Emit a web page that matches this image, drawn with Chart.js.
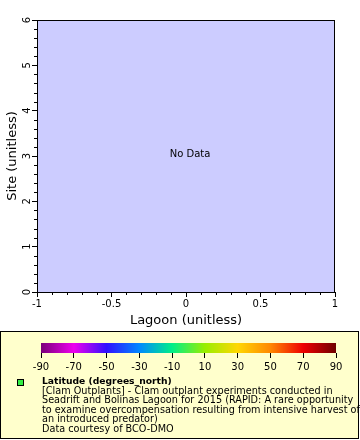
<!DOCTYPE html>
<html>
<head>
<meta charset="utf-8">
<script src="https://cdn.jsdelivr.net/npm/chart.js@4.4.1/dist/chart.umd.min.js"></script>
<style>
  html, body { margin: 0; padding: 0; background: #ffffff; }
  body { width: 360px; height: 440px; position: relative; overflow: hidden; font-family: "DejaVu Sans", sans-serif; }
  #main { position: absolute; left: 0; top: 0; }
  #legend { position: absolute; left: 0; top: 331px; width: 359px; height: 108px; box-sizing: border-box;
            background: #ffffcc; border: 1px solid #000; }
  #cb { position: absolute; left: 21px; top: 338px; }
  #marker { position: absolute; left: 17px; top: 379px; width: 5px; height: 5px; background: #33ee44; border: 1px solid #000; }
  #ltext { position: absolute; left: 42px; top: 376px; font-size: 9.7px; line-height: 9.5px; color: #000; white-space: pre; }
  #ltext b { font-weight: bold; font-size: 9.2px; }
</style>
</head>
<body>
<canvas id="main" width="360" height="331"></canvas>
<div id="legend"></div>
<canvas id="cb" width="334" height="40"></canvas>
<div id="marker"></div>
<div id="ltext"><b>Latitude (degrees_north)</b>
[Clam Outplants] - Clam outplant experiments conducted in
Seadrift and Bolinas Lagoon for 2015 (RAPID: A rare opportunity
to examine overcompensation resulting from intensive harvest of
an introduced predator)
Data courtesy of BCO-DMO</div>
<script>
// ---- data ----
const xTickValues = [-1, -0.5, 0, 0.5, 1];
const yTickValues = [0, 1, 2, 3, 4, 5, 6];
const points = [];              // no data in this chart
const xTitle = 'Lagoon (unitless)';
const yTitle = 'Site (unitless)';
const emptyText = 'No Data';
const cbTicks = [-90, -70, -50, -30, -10, 10, 30, 50, 70, 90];
const cbColors = ['#7a007a', '#ee00ee', '#3010ff', '#0088ff', '#00ee88', '#99ee00', '#ffd700', '#ff8800', '#ee0000', '#700000'];

const FONT = "'DejaVu Sans', sans-serif";

const frame = {
  id: 'frame',
  beforeDraw(chart) {
    const {ctx, chartArea: a} = chart;
    ctx.save();
    ctx.fillStyle = '#ccccff';
    ctx.fillRect(a.left, a.top, a.right - a.left, a.bottom - a.top);
    ctx.restore();
  },
  afterDraw(chart) {
    const {ctx, chartArea: a, scales} = chart;
    ctx.save();
    ctx.strokeStyle = '#000';
    ctx.lineWidth = 1;
    ctx.strokeRect(a.left + 0.5, a.top + 0.5, a.right - a.left - 1, a.bottom - a.top);
    // minor ticks
    ctx.beginPath();
    const xs = scales.x, ys = scales.y;
    for (let i = -10; i <= 10; i++) {
      if (i % 5 === 0) continue;
      const px = Math.round(xs.getPixelForValue(i / 10)) + 0.5;
      ctx.moveTo(px, a.bottom); ctx.lineTo(px, a.bottom + 3);
    }
    for (let i = 0; i <= 30; i++) {
      if (i % 5 === 0) continue;
      const py = Math.round(ys.getPixelForValue(i / 5)) + 0.5;
      ctx.moveTo(a.left, py); ctx.lineTo(a.left - 3, py);
    }
    ctx.stroke();
    if (points.length === 0) {
      ctx.fillStyle = '#000';
      ctx.font = '10px ' + FONT;
      ctx.textAlign = 'center';
      ctx.textBaseline = 'middle';
      ctx.fillText(emptyText, (a.left + a.right) / 2 + 4, (a.top + a.bottom) / 2 - 2);
    }
    ctx.restore();
  }
};

new Chart(document.getElementById('main'), {
  type: 'scatter',
  data: { datasets: [{ data: points, pointBackgroundColor: '#33ee44' }] },
  options: {
    responsive: false,
    animation: false,
    devicePixelRatio: 1,
    layout: { padding: { top: 20, right: 25, left: 0, bottom: 0 } },
    plugins: { legend: { display: false }, tooltip: { enabled: false } },
    scales: {
      x: {
        type: 'linear', min: -1, max: 1,
        afterBuildTicks(s) { s.ticks = xTickValues.map(v => ({ value: v })); },
        afterFit(s) { s.height = 39; },
        border: { display: false },
        grid: { drawOnChartArea: false, tickLength: 5, tickColor: '#000', lineWidth: 1 },
        ticks: { color: '#000', font: { family: FONT, size: 10 }, padding: 1, maxRotation: 0, callback: v => String(v) },
        title: { display: true, text: xTitle, color: '#000', font: { family: FONT, size: 13 }, padding: { top: 0, bottom: 3 } }
      },
      y: {
        type: 'linear', min: 0, max: 6,
        afterBuildTicks(s) { s.ticks = yTickValues.map(v => ({ value: v })); },
        afterFit(s) { s.width = 37; },
        border: { display: false },
        grid: { drawOnChartArea: false, tickLength: 5, tickColor: '#000', lineWidth: 1 },
        ticks: { color: '#000', font: { family: FONT, size: 10 }, padding: 1, minRotation: 90, maxRotation: 90, crossAlign: 'center', callback: v => String(v) },
        title: { display: true, text: yTitle, color: '#000', font: { family: FONT, size: 13 }, padding: { top: 5, bottom: 0 } }
      }
    }
  },
  plugins: [frame]
});

// colorbar
new Chart(document.getElementById('cb'), {
  type: 'bar',
  data: {
    labels: [''],
    datasets: [{
      data: [[cbTicks[0], cbTicks[cbTicks.length - 1]]],
      barPercentage: 1, categoryPercentage: 1, borderWidth: 0,
      backgroundColor(ctx) {
        const chart = ctx.chart; const xs = chart.scales.x;
        if (!xs || !chart.chartArea) return cbColors[0];
        const x0 = xs.getPixelForValue(cbTicks[0]), x1 = xs.getPixelForValue(cbTicks[cbTicks.length - 1]);
        const g = chart.ctx.createLinearGradient(x0, 0, x1, 0);
        cbTicks.forEach((v, i) => g.addColorStop((v - cbTicks[0]) / (cbTicks[cbTicks.length - 1] - cbTicks[0]), cbColors[i]));
        return g;
      }
    }]
  },
  options: {
    indexAxis: 'y',
    responsive: false, animation: false, devicePixelRatio: 1,
    layout: { padding: { top: 5, left: 20, right: 19, bottom: 0 } },
    plugins: { legend: { display: false }, tooltip: { enabled: false } },
    scales: {
      x: {
        type: 'linear', min: cbTicks[0], max: cbTicks[cbTicks.length - 1],
        afterBuildTicks(s) { s.ticks = cbTicks.map(v => ({ value: v })); },
        afterFit(s) { s.height = 25; },
        border: { display: false },
        grid: { drawOnChartArea: false, tickLength: 5, tickColor: '#000' },
        ticks: { color: '#000', font: { family: FONT, size: 10 }, padding: 3, maxRotation: 0 }
      },
      y: { display: false }
    }
  }
});
</script>
</body>
</html>
